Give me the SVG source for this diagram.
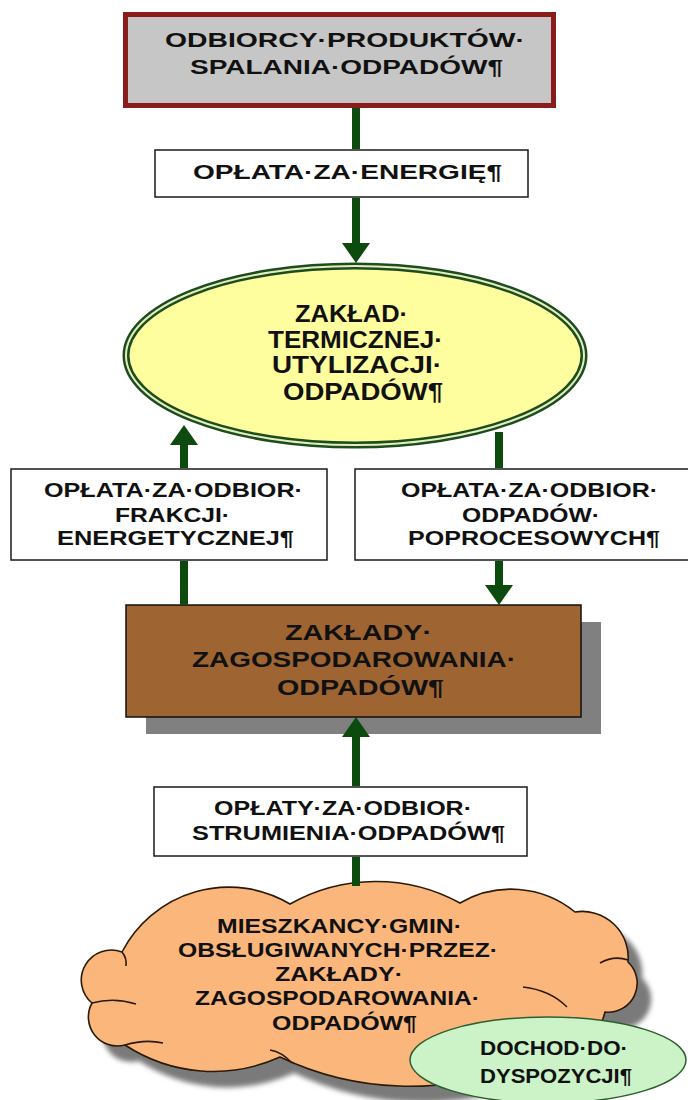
<svg xmlns="http://www.w3.org/2000/svg" width="688" height="1100" viewBox="0 0 688 1100">
  <defs>
    <style>
      .t { font-family: "Liberation Sans", Arial, sans-serif; font-weight: bold; fill: #111; }
      .lbl { fill: #ffffff; stroke: #1a1a1a; stroke-width: 1.5; }
      .conn { stroke: #0d4a0d; stroke-width: 8; fill: none; }
      .head { marker-end: url(#arr); }
      .cloudline { fill: none; stroke: #2a1a08; stroke-width: 1.6; }
    </style>
    <marker id="arr" viewBox="0 0 20 28" refX="0" refY="14" markerWidth="20" markerHeight="28" markerUnits="userSpaceOnUse" orient="auto">
      <path d="M0,0 L20,14 L0,28 Z" fill="#0d4a0d"/>
    </marker>
    <filter id="soft" x="-10%" y="-10%" width="120%" height="130%">
      <feGaussianBlur stdDeviation="2.5"/>
    </filter>
    <path id="cloudPath" d="M122,952 A120,120 0 0 1 290,904 A175,175 0 0 1 460,903 A101,101 0 0 1 575,912 A46,46 0 0 1 628,962 A29,29 0 0 1 605,1012 A72,72 0 0 1 520,1065 A300,300 0 0 1 280,1057 A161,161 0 0 1 125,1045 A29,29 0 0 1 92,1003 A30,30 0 0 1 122,952 Z"/>
  </defs>

  <g id="node-odbiorcy">
    <rect x="125.5" y="14.5" width="428" height="91" fill="#c6c6c6" stroke="#8b1c1c" stroke-width="5"/>
    <text class="t" x="165" y="47" font-size="20" textLength="360" lengthAdjust="spacingAndGlyphs">ODBIORCY·PRODUKTÓW·</text>
    <text class="t" x="190" y="74" font-size="20" textLength="313" lengthAdjust="spacingAndGlyphs">SPALANIA·ODPADÓW¶</text>
  </g>

  <g id="label-energia">
    <rect class="lbl" x="155" y="150" width="373" height="47"/>
    <text class="t" x="193" y="179" font-size="20" textLength="309" lengthAdjust="spacingAndGlyphs">OPŁATA·ZA·ENERGIĘ¶</text>
  </g>

  <g id="node-zaklad-termiczny">
    <ellipse cx="355" cy="355.5" rx="229" ry="89.5" fill="#fefe9e" stroke="#1d4d1d" stroke-width="7"/>
    <ellipse cx="355" cy="355.5" rx="229" ry="89.5" fill="none" stroke="#e4edc0" stroke-width="2"/>
    <text class="t" x="295" y="322" font-size="23" textLength="113" lengthAdjust="spacingAndGlyphs">ZAKŁAD·</text>
    <text class="t" x="268" y="348" font-size="23" textLength="175" lengthAdjust="spacingAndGlyphs">TERMICZNEJ·</text>
    <text class="t" x="272" y="373" font-size="23" textLength="170" lengthAdjust="spacingAndGlyphs">UTYLIZACJI·</text>
    <text class="t" x="283" y="400" font-size="23" textLength="160" lengthAdjust="spacingAndGlyphs">ODPADÓW¶</text>
  </g>

  <g id="label-frakcja">
    <rect class="lbl" x="11" y="469" width="316" height="91"/>
    <text class="t" x="44" y="497" font-size="19.5" textLength="259" lengthAdjust="spacingAndGlyphs">OPŁATA·ZA·ODBIOR·</text>
    <text class="t" x="115" y="522" font-size="19.5" textLength="115" lengthAdjust="spacingAndGlyphs">FRAKCJI·</text>
    <text class="t" x="57" y="545" font-size="19.5" textLength="237" lengthAdjust="spacingAndGlyphs">ENERGETYCZNEJ¶</text>
  </g>

  <g id="label-poprocesowe">
    <rect class="lbl" x="355" y="469" width="340" height="91"/>
    <text class="t" x="401" y="497" font-size="19.5" textLength="257" lengthAdjust="spacingAndGlyphs">OPŁATA·ZA·ODBIOR·</text>
    <text class="t" x="462" y="522" font-size="19.5" textLength="138" lengthAdjust="spacingAndGlyphs">ODPADÓW·</text>
    <text class="t" x="408" y="545" font-size="19.5" textLength="252" lengthAdjust="spacingAndGlyphs">POPROCESOWYCH¶</text>
  </g>

  <g id="node-zaklady-zagospodarowania">
    <rect x="146" y="622" width="455" height="112" fill="#808080"/>
    <rect x="126" y="605" width="455" height="112" fill="#9e6532" stroke="#111" stroke-width="1.5"/>
    <text class="t" x="285" y="640" font-size="22" textLength="147" lengthAdjust="spacingAndGlyphs">ZAKŁADY·</text>
    <text class="t" x="192" y="667" font-size="22" textLength="324" lengthAdjust="spacingAndGlyphs">ZAGOSPODAROWANIA·</text>
    <text class="t" x="277" y="695" font-size="22" textLength="167" lengthAdjust="spacingAndGlyphs">ODPADÓW¶</text>
  </g>

  <g id="label-strumien">
    <rect class="lbl" x="154" y="787" width="373" height="69"/>
    <text class="t" x="214" y="815" font-size="19.5" textLength="258" lengthAdjust="spacingAndGlyphs">OPŁATY·ZA·ODBIOR·</text>
    <text class="t" x="192" y="840" font-size="19.5" textLength="313" lengthAdjust="spacingAndGlyphs">STRUMIENIA·ODPADÓW¶</text>
  </g>

  <g id="node-mieszkancy">
    <use href="#cloudPath" transform="translate(14,16)" fill="#7a7a7a" filter="url(#soft)"/>
    <use href="#cloudPath" fill="#fbb67c" stroke="#2a1a08" stroke-width="1.6"/>
    <path class="cloudline" d="M92,1003 Q114,997 136,1004"/>
    <path class="cloudline" d="M125,1045 Q145,1039 163,1043"/>
    <path class="cloudline" d="M270,1050 Q282,1052 292,1063"/>
    <path class="cloudline" d="M600,963 Q614,955 628,960"/>
    <path class="cloudline" d="M523,987 Q550,990 567,1007"/>
    <path class="cloudline" d="M122,952 Q127,958 126,966"/>
    <text class="t" x="217" y="933" font-size="19.5" textLength="245" lengthAdjust="spacingAndGlyphs">MIESZKANCY·GMIN·</text>
    <text class="t" x="178" y="957" font-size="19.5" textLength="320" lengthAdjust="spacingAndGlyphs">OBSŁUGIWANYCH·PRZEZ·</text>
    <text class="t" x="275" y="981" font-size="19.5" textLength="128" lengthAdjust="spacingAndGlyphs">ZAKŁADY·</text>
    <text class="t" x="195" y="1005" font-size="19.5" textLength="285" lengthAdjust="spacingAndGlyphs">ZAGOSPODAROWANIA·</text>
    <text class="t" x="272" y="1030" font-size="19.5" textLength="145" lengthAdjust="spacingAndGlyphs">ODPADÓW¶</text>
  </g>

  <g id="node-dochod">
    <ellipse cx="548" cy="1060" rx="138" ry="43" fill="#ccf2c8" stroke="#2e5e2e" stroke-width="1.5"/>
    <text class="t" x="480" y="1055" font-size="19.5" textLength="148" lengthAdjust="spacingAndGlyphs">DOCHOD·DO·</text>
    <text class="t" x="480" y="1083" font-size="19.5" textLength="152" lengthAdjust="spacingAndGlyphs">DYSPOZYCJI¶</text>
  </g>

  <g id="connectors">
    <path class="conn" d="M356,108 L356,149"/>
    <path class="conn head" d="M356,198 L356,243"/>
    <path class="conn" d="M184,605 L184,561"/>
    <path class="conn head" d="M184,468 L184,445"/>
    <path class="conn" d="M499,432 L499,468"/>
    <path class="conn head" d="M499,561 L499,585"/>
    <path class="conn" d="M356,886 L356,857"/>
    <path class="conn head" d="M356,786 L356,737"/>
  </g>
</svg>
